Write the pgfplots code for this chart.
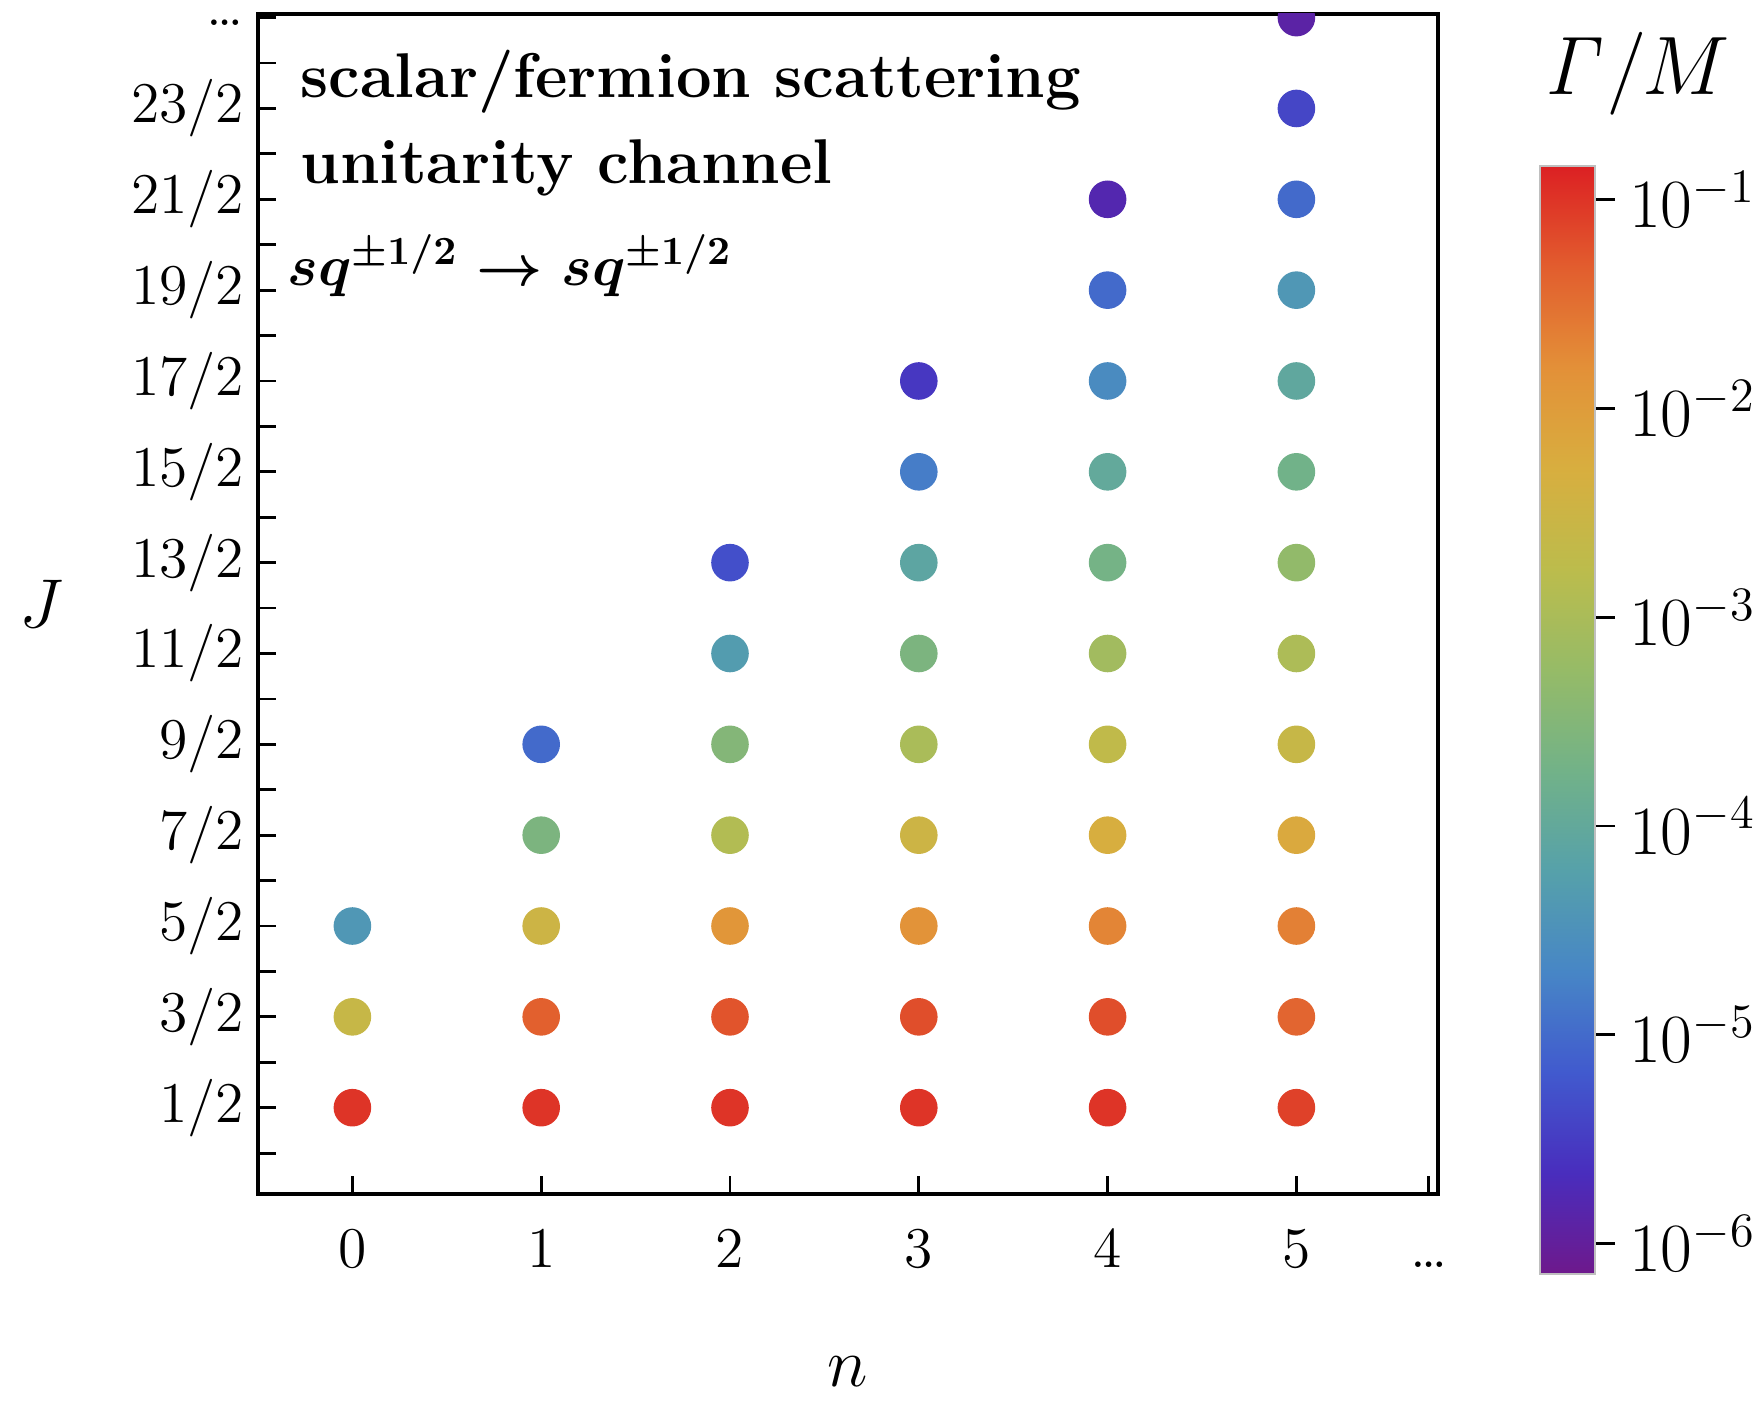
\documentclass[border=0pt]{standalone}
\usepackage{pgfplots}
\pgfplotsset{compat=1.18}
\usepackage{pgfplotstable}

% decay width over mass for each state (n, J)
\pgfplotstableread{
n J gm
0 0.5 1.0e-1
0 1.5 2.5e-3
0 2.5 4.0e-5
1 0.5 1.0e-1
1 1.5 4.5e-2
1 2.5 3.2e-3
1 3.5 2.5e-4
1 4.5 1.0e-5
2 0.5 1.0e-1
2 1.5 5.6e-2
2 2.5 1.26e-2
2 3.5 1.26e-3
2 4.5 3.2e-4
2 5.5 5.0e-5
2 6.5 5.0e-6
3 0.5 1.0e-1
3 1.5 6.3e-2
3 2.5 1.4e-2
3 3.5 3.2e-3
3 4.5 1.0e-3
3 5.5 2.5e-4
3 6.5 7.9e-5
3 7.5 1.6e-5
3 8.5 2.8e-6
4 0.5 1.0e-1
4 1.5 6.3e-2
4 2.5 2.0e-2
4 3.5 5.0e-3
4 4.5 2.0e-3
4 5.5 7.9e-4
4 6.5 2.0e-4
4 7.5 1.0e-4
4 8.5 2.5e-5
4 9.5 1.0e-5
4 10.5 1.6e-6
5 0.5 7.9e-2
5 1.5 4.0e-2
5 2.5 2.2e-2
5 3.5 6.3e-3
5 4.5 2.5e-3
5 5.5 1.1e-3
5 6.5 5.0e-4
5 7.5 1.8e-4
5 8.5 8.9e-5
5 9.5 4.0e-5
5 10.5 1.0e-5
5 11.5 4.0e-6
5 12.5 1.26e-6
}\widths

\begin{document}
\begin{tikzpicture}
\begin{axis}[
  name=ax,
  scale only axis, width=295pt, height=295pt,
  xmin=-0.5, xmax=5.75, ymin=-0.45, ymax=12.54,
  axis line style={line width=0.8pt},
  tick align=inside, xtick pos=left, ytick pos=left,
  xtick={0,1,2,3,4,5,5.7},
  xticklabels={0,1,2,3,4,5,{\ldots}},
  ytick={0.5,1.5,2.5,3.5,4.5,5.5,6.5,7.5,8.5,9.5,10.5,11.5,12.5},
  yticklabels={$1/2$,$3/2$,$5/2$,$7/2$,$9/2$,$11/2$,$13/2$,$15/2$,$17/2$,$19/2$,$21/2$,$23/2$,{\raisebox{-2pt}[0pt][0pt]{\ldots}}},
  minor ytick={0,1,2,3,4,5,6,7,8,9,10,11,12},
  major tick length=4.5pt, minor tick length=4.5pt,
  tick style={line width=0.7pt, black},
  ticklabel style={font=\Large},
  xticklabel style={text height=1.6ex, yshift=-8pt},
  yticklabel style={inner ysep=1pt},
  xlabel={$n$}, ylabel={$J$},
  xlabel style={font=\LARGE, yshift=-15pt},
  ylabel style={font=\LARGE, rotate=-90, xshift=-10pt},
  colormap={gmmap}{
    rgb255=(110,25,140)
    rgb255=(73,45,189)
    rgb255=(65,90,206)
    rgb255=(71,134,198)
    rgb255=(86,161,170)
    rgb255=(114,178,136)
    rgb255=(150,187,103)
    rgb255=(188,188,76)
    rgb255=(216,174,63)
    rgb255=(227,144,56)
    rgb255=(226,93,46)
    rgb255=(220,32,35)
  },
  point meta min=-6.145, point meta max=-0.84,
  colorbar,
  colorbar style={
    at={(parent axis.north east)}, anchor=north west,
    xshift=17pt, yshift=-38pt,
    width=13.75pt, height=277pt,
    ytick={-6,-5,-4,-3,-2,-1},
    yticklabels={$10^{-6}$,$10^{-5}$,$10^{-4}$,$10^{-3}$,$10^{-2}$,$10^{-1}$},
    yticklabel style={font=\LARGE},
    ytick pos=right, yticklabel pos=right,
    tick align=outside, major tick length=5pt,
    tick style={black, line width=0.7pt},
    axis line style={draw=gray!50, line width=0.4pt},
  },
  clip marker paths=true,
]
\addplot[scatter, only marks, mark=*, mark size=4.5pt,
  scatter/use mapped color={draw=mapped color, fill=mapped color},
  point meta=\thisrow{lg}]
  table[x=n, y=J, create on use/lg/.style={create col/expr={log10(\thisrow{gm})}}] {\widths};
\end{axis}
\node[anchor=west, font=\fontsize{15.8}{19}\selectfont\bfseries, xshift=7.1pt, yshift=-17pt] at (ax.north west) {scalar/fermion scattering};
\node[anchor=west, font=\fontsize{15.8}{19}\selectfont\bfseries, xshift=7.1pt, yshift=-38.6pt] at (ax.north west) {unitarity channel};
\node[anchor=west, font={\Large\mathversion{bold}}, xshift=3.9pt, yshift=-63pt] at (ax.north west) {$sq^{\pm1/2}\to sq^{\pm1/2}$};
\node[font=\huge, xshift=49.75pt, yshift=-14.9pt] at (ax.north east) {$\mathit{\Gamma}/M$};
\pgfresetboundingbox
\path (ax.south west) ++(-64.5pt,-51.75pt) rectangle ++(439.5pt,350.25pt);
\end{tikzpicture}
\end{document}
